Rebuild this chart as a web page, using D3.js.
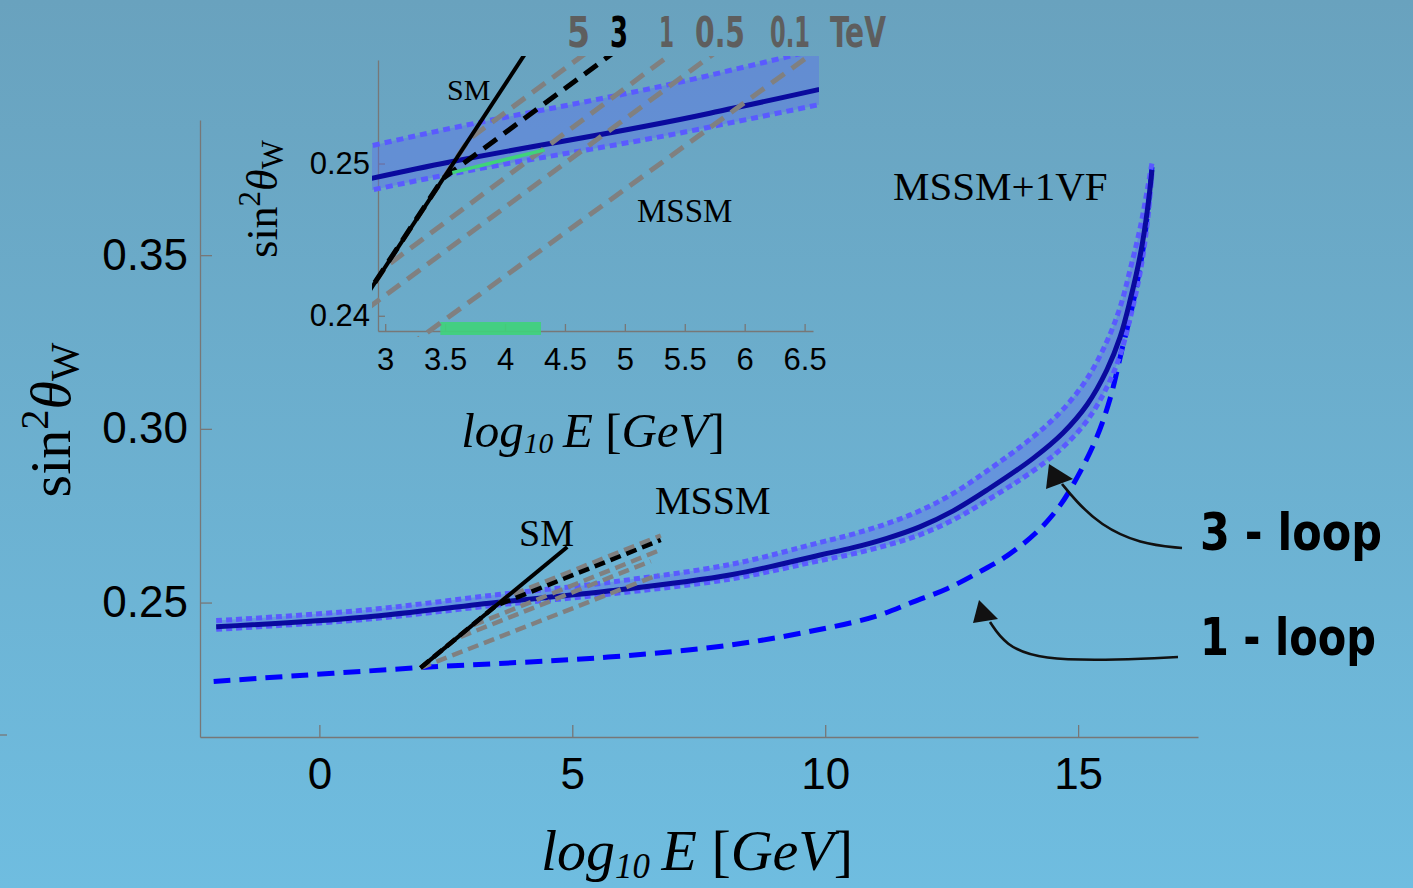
<!DOCTYPE html>
<html>
<head>
<meta charset="utf-8">
<script src="https://cdn.jsdelivr.net/npm/d3@7/dist/d3.min.js"></script>
<style>
html, body { margin: 0; padding: 0; overflow: hidden; }
svg { display: block; }
text { font-family: "Liberation Serif", "Times New Roman", serif; }
.tick text { font-family: "Liberation Sans", Arial, sans-serif; fill: #000; }
.hand { font-family: "DejaVu Sans Condensed", "Liberation Sans Narrow", "DejaVu Sans", sans-serif; font-weight: bold; }
</style>
</head>
<body>
<div id="chart"></div>
<script>
'use strict';

// ---- data (log10 E [GeV], sin^2 theta_W) ----

// 3-loop MSSM+1VF: central line and band edges
const loop3_x  = [-2.04, 0.87, 3.54, 5.71, 8.14, 9.90, 10.55, 11.22, 11.87, 12.53, 13.20, 14.11, 14.70, 15.18, 15.57, 15.83, 16.03, 16.23, 16.37, 16.46];
const loop3_y  = [0.2430, 0.2458, 0.2501, 0.2533, 0.2580, 0.2637, 0.2658, 0.2685, 0.2718, 0.2764, 0.2824, 0.2915, 0.2988, 0.3070, 0.3170, 0.3264, 0.3371, 0.3501, 0.3630, 0.3745];
const loop3_hi = [0.2448, 0.2478, 0.2523, 0.2558, 0.2610, 0.2673, 0.2697, 0.2727, 0.2764, 0.2814, 0.2879, 0.2977, 0.3056, 0.3145, 0.3252, 0.3350, 0.3459, 0.3581, 0.3690, 0.3765];
const loop3_lo = [0.2423, 0.2451, 0.2493, 0.2524, 0.2568, 0.2621, 0.2640, 0.2665, 0.2695, 0.2738, 0.2794, 0.2879, 0.2947, 0.3024, 0.3120, 0.3212, 0.3319, 0.3453, 0.3595, 0.3735];

// 1-loop
const loop1_x = [-2.09, 1.92, 5.71, 8.14, 10.04, 11.03, 11.74, 12.41, 13.06, 13.6, 14.19, 14.64, 15.04, 15.38, 15.63, 15.87, 16.03, 16.17, 16.32, 16.46];
const loop1_y = [0.2273, 0.2312, 0.2343, 0.2378, 0.2427, 0.2462, 0.2502, 0.2540, 0.2589, 0.2635, 0.2704, 0.2779, 0.2876, 0.2980, 0.3086, 0.3230, 0.3325, 0.3423, 0.3555, 0.3754];

// SM running
const sm_x = [2, 4.9];
const sm_y = [0.2312, 0.2660];

// MSSM with superpartner thresholds (TeV)
const thr_names = ['5', '3', '1', '0.5', '0.1'];
const thr_x = [[2, 3.7, 6.75], [2, 3.48, 6.75], [2, 3.0, 6.75], [2, 2.7, 6.55], [2, 6.7]];
const thr_y = [[0.2312, 0.2516, 0.2693], [0.2312, 0.2490, 0.2680], [0.2312, 0.2432, 0.2652], [0.2312, 0.2396, 0.2619], [0.2312, 0.2580]];

// highlighted window in the inset
const green_x = [3.46, 4.30];
const green_seg_x = [3.56, 4.33];
const green_seg_y = [0.2494, 0.2509];

// ticks
const main_x_major = [0, 5, 10, 15];
const main_y_major = [0.25, 0.30, 0.35];
const inset_x_major = [3, 3.5, 4, 4.5, 5, 5.5, 6, 6.5];
const inset_y_major = [0.24, 0.25];

// ---- layout ----
const W = 1413, H = 888;
const main = { left: 200, right: 1198, top: 120, bottom: 737 };
const ins  = { left: 378, right: 813, top: 60, bottom: 331 };

const svg = d3.select('#chart').append('svg')
    .attr('width', W)
    .attr('height', H);

// background gradient
const defs = svg.append('defs');
const grad = defs.append('linearGradient')
    .attr('id', 'bg').attr('x1', 0).attr('y1', 0).attr('x2', 0).attr('y2', 1);
grad.append('stop').attr('offset', '0%').attr('stop-color', '#69a2be');
grad.append('stop').attr('offset', '100%').attr('stop-color', '#6fbde0');
svg.append('rect').attr('width', W).attr('height', H).attr('fill', 'url(#bg)');

defs.append('clipPath').attr('id', 'insclip')
    .append('rect')
    .attr('x', 372).attr('y', 56)
    .attr('width', 447).attr('height', 281);

// stray tick on left edge
svg.append('line').attr('x1', 0).attr('x2', 7).attr('y1', 735).attr('y2', 735)
    .attr('stroke', '#777').attr('stroke-width', 1.3);

const zip = (xs, ys) => xs.map((x, i) => [x, ys[i]]);

// ================= main chart =================
const x = d3.scaleLinear().domain([-2.36, 17.37]).range([main.left, main.right]);
const y = d3.scaleLinear().domain([0.2113, 0.3889]).range([main.bottom, main.top]);

function drawAxes(g, xs, ys, opt) {
    const xg = g.append('g').attr('transform', `translate(0,${ys.range()[0]})`);
    xg.call(d3.axisBottom(xs).tickValues(opt.xMinor).tickSize(-opt.minor).tickSizeOuter(0).tickFormat(''));
    xg.call(d3.axisBottom(xs).tickValues(opt.xMajor).tickSize(-opt.major).tickSizeOuter(0)
        .tickPadding(opt.xPad).tickFormat(opt.xFmt));
    const yg = g.append('g').attr('transform', `translate(${xs.range()[0]},0)`);
    yg.call(d3.axisLeft(ys).tickValues(opt.yMinor).tickSize(-opt.minor).tickSizeOuter(0).tickFormat(''));
    yg.call(d3.axisLeft(ys).tickValues(opt.yMajor).tickSize(-opt.major).tickSizeOuter(0)
        .tickPadding(opt.yPad).tickFormat(d3.format('.2f')));
    g.selectAll('.domain, .tick line').attr('stroke', '#777').attr('stroke-width', 1.3);
    g.selectAll('.tick text').attr('font-size', opt.fs).attr('fill', '#000');
}

drawAxes(svg.append('g'), x, y, {
    xMinor: d3.range(-2, 18), xMajor: main_x_major,
    yMinor: d3.range(22, 39).map(d => d / 100), yMajor: main_y_major,
    minor: 7, major: 12, xPad: 21, yPad: 12, fs: 44,
    xFmt: d3.format('d')
});

function drawCurves(g, xs, ys, s) {
    const smooth = d3.curveCatmullRom.alpha(0.5);
    const line = d3.line().x(d => xs(d[0])).y(d => ys(d[1])).curve(smooth);
    const area = d3.area().x(d => xs(d[0])).y0(d => ys(d[1])).y1(d => ys(d[2])).curve(smooth);

    g.append('path').datum(loop3_x.map((v, i) => [v, loop3_lo[i], loop3_hi[i]]))
        .attr('d', area).attr('fill', 'rgba(90,105,240,0.38)');

    g.append('path').datum(zip(loop1_x, loop1_y)).attr('d', line)
        .attr('fill', 'none').attr('stroke', '#0000ff').attr('stroke-width', s.w)
        .attr('stroke-dasharray', s.dash1);

    [loop3_hi, loop3_lo].forEach(arr => {
        g.append('path').datum(zip(loop3_x, arr)).attr('d', line)
            .attr('fill', 'none').attr('stroke', '#5a5aff').attr('stroke-width', s.w)
            .attr('stroke-dasharray', s.dot);
    });

    g.append('path').datum(zip(loop3_x, loop3_y)).attr('d', line)
        .attr('fill', 'none').attr('stroke', '#0a0a9e').attr('stroke-width', s.w);

    // threshold lines (gray first, 3 TeV in black on top)
    const straight = d3.line().x(d => xs(d[0])).y(d => ys(d[1]));
    thr_names.forEach((n, i) => {
        if (n === '3') return;
        g.append('path').datum(zip(thr_x[i], thr_y[i])).attr('d', straight)
            .attr('fill', 'none').attr('stroke', '#808080').attr('stroke-width', s.wg)
            .attr('stroke-dasharray', s.dashG);
    });
    g.append('path').datum(zip(sm_x, sm_y)).attr('d', straight)
        .attr('fill', 'none').attr('stroke', '#000').attr('stroke-width', s.w - 1);
    const i3 = thr_names.indexOf('3');
    g.append('path').datum(zip(thr_x[i3], thr_y[i3])).attr('d', straight)
        .attr('fill', 'none').attr('stroke', '#000').attr('stroke-width', s.wg)
        .attr('stroke-dasharray', s.dashG);
}

drawCurves(svg.append('g'), x, y, { w: 5, wg: 4.5, dash1: '17,9', dot: '6,4', dashG: '11,6' });

// ================= inset =================
const xi = d3.scaleLinear().domain([2.94, 6.57]).range([ins.left, ins.right]);
const yi = d3.scaleLinear().domain([0.2390, 0.2568]).range([ins.bottom, ins.top]);

drawAxes(svg.append('g'), xi, yi, {
    xMinor: [], xMajor: inset_x_major,
    yMinor: [], yMajor: inset_y_major,
    minor: 7, major: 7, xPad: 17, yPad: 8, fs: 31,
    xFmt: d => d
});

const gi = svg.append('g').attr('clip-path', 'url(#insclip)');
gi.append('rect')
    .attr('x', xi(green_x[0])).attr('width', xi(green_x[1]) - xi(green_x[0]))
    .attr('y', ins.bottom - 9).attr('height', 13)
    .attr('fill', '#3fd37a').attr('opacity', 0.9);
drawCurves(gi, xi, yi, { w: 5, wg: 5, dash1: '17,9', dot: '7,5', dashG: '16,9' });
gi.append('path').datum(zip(green_seg_x, green_seg_y))
    .attr('d', d3.line().x(d => xi(d[0])).y(d => yi(d[1])))
    .attr('stroke', '#3fd37a').attr('stroke-width', 3.5);

// ================= labels =================
function mathLabel(g, fs, kind) {
    const t = g.append('text').attr('font-size', fs).attr('fill', '#000');
    if (kind === 'x') {
        t.append('tspan').attr('font-style', 'italic').text('log');
        t.append('tspan').attr('font-style', 'italic').attr('font-size', fs * 0.6).attr('dy', fs * 0.13).text('10');
        t.append('tspan').attr('font-style', 'italic').attr('dy', -fs * 0.13).text('\u2009E');
        t.append('tspan').text(' [');
        t.append('tspan').attr('font-style', 'italic').text('GeV');
        t.append('tspan').text(']');
    } else {
        t.append('tspan').text('sin');
        t.append('tspan').attr('font-size', fs * 0.7).attr('dy', -fs * 0.38).text('2');
        t.append('tspan').attr('font-style', 'italic').attr('dy', fs * 0.38).text('\u03b8');
        t.append('tspan').attr('font-size', fs * 0.7).attr('dy', fs * 0.14).text('W');
    }
    return t;
}

mathLabel(svg.append('g').attr('transform', 'translate(697,870)'), 58, 'x').attr('text-anchor', 'middle');
mathLabel(svg.append('g').attr('transform', 'translate(70,420) rotate(-90)'), 58, 'y').attr('text-anchor', 'middle');
mathLabel(svg.append('g').attr('transform', 'translate(593,447)'), 49, 'x').attr('text-anchor', 'middle');
mathLabel(svg.append('g').attr('transform', 'translate(277,199) rotate(-90)'), 44, 'y').attr('text-anchor', 'middle');

const serifLabels = [
    { t: 'SM', x: 519, y: 546, fs: 38 },
    { t: 'MSSM', x: 655, y: 514, fs: 40 },
    { t: 'MSSM+1VF', x: 893, y: 200, fs: 41 },
    { t: 'SM', x: 447, y: 100, fs: 30 },
    { t: 'MSSM', x: 637, y: 222, fs: 33 }
];
svg.selectAll('text.lab').data(serifLabels).enter().append('text')
    .attr('class', 'lab')
    .attr('x', d => d.x).attr('y', d => d.y)
    .attr('font-size', d => d.fs)
    .attr('fill', '#000')
    .text(d => d.t);

// squeeze a bold label horizontally to a given width (hand-lettered look)
function squeezed(sel, fs) {
    sel.each(function(d) {
        const t = d3.select(this).attr('font-size', fs).text(d.t);
        const w0 = this.getComputedTextLength();
        t.attr('transform', `translate(${d.x},${d.y}) scale(${d.w / w0},1)`);
    });
}

// threshold mass labels above the inset
const thrLabelX = [567, 610, 659, 695, 770];
const thrLabelW = [23, 18, 15, 50, 40];
const topLabels = thr_names.map((n, i) => ({ t: n, x: thrLabelX[i], y: 47, w: thrLabelW[i], color: n === '3' ? '#000' : '#5e5e5e' }))
    .concat([{ t: 'TeV', x: 830, y: 47, w: 56, color: '#5e5e5e' }]);
svg.selectAll('text.top').data(topLabels).enter().append('text')
    .attr('class', 'top hand')
    .attr('fill', d => d.color)
    .call(squeezed, 42);

// loop-order annotations with hand-drawn arrows
const notes = [
    { t: '3 - loop', x: 1200, y: 550, w: 182,
      path: [[1182, 548], [1140, 544], [1100, 525], [1075, 500], [1062, 484]],
      head: [[1049, 464], [1046, 489], [1073, 479]] },
    { t: '1 - loop', x: 1200, y: 655, w: 176,
      path: [[1178, 657], [1120, 660], [1040, 660], [1005, 645], [990, 622]],
      head: [[979, 600], [973, 623], [998, 619]] }
];
svg.selectAll('text.note').data(notes).enter().append('text')
    .attr('class', 'note hand')
    .attr('fill', '#000')
    .call(squeezed, 52);
notes.forEach(n => {
    svg.append('path').attr('d', d3.line().curve(d3.curveBasis)(n.path))
        .attr('fill', 'none').attr('stroke', '#111').attr('stroke-width', 2.6);
    svg.append('path').attr('d', d3.line()(n.head) + 'Z').attr('fill', '#111');
});
</script>
</body>
</html>
